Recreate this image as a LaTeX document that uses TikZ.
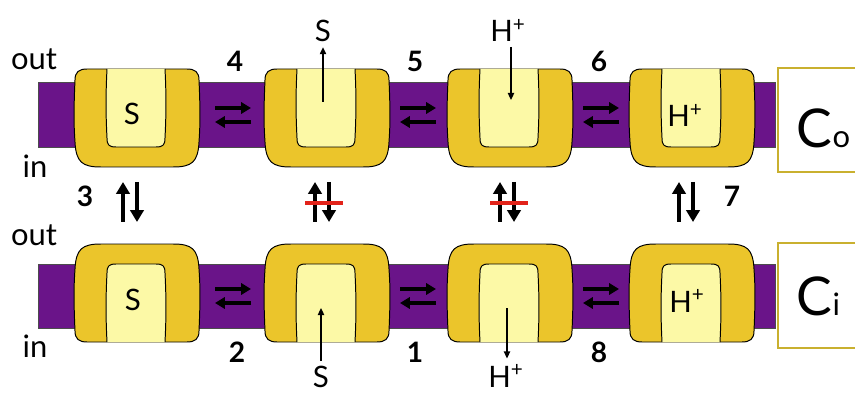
\documentclass[tikz,border=0pt]{standalone}
\usepackage{fontspec}
\setmainfont{Lato}
\usetikzlibrary{arrows.meta}
\definecolor{membrane}{HTML}{6A1489}
\definecolor{carrier}{HTML}{EBC52B}
\definecolor{pocket}{HTML}{FCF9A6}
\definecolor{frame}{HTML}{C9B02F}
\definecolor{blocked}{HTML}{E2231A}

\begin{document}
\begin{tikzpicture}[x=0.025cm, y=-0.025cm,
  side/.style={font=\fontsize{22}{24}\selectfont, anchor=base},
  num/.style={font=\fontsize{20}{22}\selectfont\bfseries, anchor=base},
  sub/.style={font=\fontsize{21}{23}\selectfont, anchor=base},
  bound/.style={font=\fontsize{21}{23}\selectfont, anchor=base},
  bar/.style={fill=membrane, draw=black!70, line width=0.6pt},
  box/.style={draw=frame, line width=2pt, fill=white},
  eq/.style={line width=2.2pt, -{Triangle[length=7pt,width=8pt]}},
  flip/.style={line width=2.8pt, -{Triangle[length=8.5pt,width=9.5pt]}},
  move/.style={line width=0.9pt, -{Triangle[length=5pt,width=4.5pt]}},
  carrier/.pic={
    \draw[fill=carrier, line width=0.7pt]
      (-62,-38) .. controls (-62,-46) and (-58,-49) .. (-50,-49) -- (50,-49)
      .. controls (58,-49) and (62,-46) .. (62,-38)
      .. controls (63.5,-5) and (63,10) .. (62,24)
      .. controls (61,44) and (55,49) .. (36,49) -- (-36,49)
      .. controls (-55,49) and (-61,44) .. (-62,24)
      .. controls (-63,10) and (-63.5,-5) .. (-62,-38) -- cycle;
    \draw[fill=pocket, line width=0.7pt]
      (-30,-49) .. controls (-31.5,-20) and (-31,0) .. (-30,20)
      .. controls (-30,27) and (-28,29) .. (-21,29) -- (19,29)
      .. controls (26,29) and (28,27) .. (28,20)
      .. controls (29,0) and (29.5,-20) .. (28,-49);
  }]
\useasboundingbox (0,0) rectangle (855,393);

% membranes and the two states
\draw[bar] (38,82) rectangle (775,147);
\draw[bar] (38,264) rectangle (775,328);
\draw[box] (778,68) rectangle (860,172);
\draw[box] (778,243) rectangle (860,348);
\node[anchor=base west] (co) at (792,148) {{\fontsize{38}{40}\selectfont C}{\fontsize{22}{24}\selectfont o}};
\node[anchor=base west] (ci) at (792,315) {{\fontsize{38}{40}\selectfont C}{\fontsize{22}{24}\selectfont i}};

\node[side] (out1) at (34,70) {out};
\node[side] (in1) at (35,178) {in};
\node[side] (out2) at (34,245) {out};
\node[side] (in2) at (35,357) {in};

% carriers, outward facing on top, inward facing below
\foreach \x in {137,327,510,692} {
  \pic at (\x,118) {carrier};
  \pic[yscale=-1] at (\x,293) {carrier};
}

\foreach \x in {233,418,601} {
  \foreach \y in {115,296} {
    \draw[eq] (\x-18,\y-7) -- (\x+18,\y-7);
    \draw[eq] (\x+18,\y+7) -- (\x-18,\y+7);
  }
}

\foreach \x in {130,322,507,686} {
  \draw[flip] (\x-7,222) -- (\x-7,182);
  \draw[flip] (\x+7,182) -- (\x+7,222);
}
\foreach \x in {322,507}
  \draw[blocked, line width=3pt] (\x-17,203) -- (\x+21,203);

\node[num] (n4) at (235,72) {4};
\node[num] (n5) at (415,72) {5};
\node[num] (n6) at (599,72) {6};
\node[num] (n3) at (85,206) {3};
\node[num] (n7) at (732,207) {7};
\node[num] (n2) at (237,362) {2};
\node[num] (n1) at (415,362) {1};
\node[num] (n8) at (599,362) {8};

% bound ligands
\node[bound] (sOutBound) at (132,125) {S};
\node[bound] (hOutBound) at (685,127) {H\textsuperscript{+}};
\node[bound] (sInBound) at (133,310) {S};
\node[bound] (hInBound) at (687,312) {H\textsuperscript{+}};

% release and uptake
\node[sub] (sOut) at (323,42) {S};
\coordinate (sOutFrom) at (323,102);
\draw[move] (sOutFrom) -- (sOut);
\node[sub] (hOut) at (508,42) {H\textsuperscript{+}};
\coordinate (hOutTo) at (511,100);
\draw[move] (hOut.south -| hOutTo) -- (hOutTo);
\node[sub, inner sep=1pt] (sIn) at (321,387) {S};
\coordinate (sInTo) at (321,308);
\draw[move, shorten <=2pt] (sIn) -- (sInTo);
\node[sub, inner sep=1pt] (hIn) at (506,387) {H\textsuperscript{+}};
\coordinate (hInFrom) at (507,308);
\draw[move, shorten >=3pt] (hInFrom) -- (hIn.north -| hInFrom);
\end{tikzpicture}
\end{document}
